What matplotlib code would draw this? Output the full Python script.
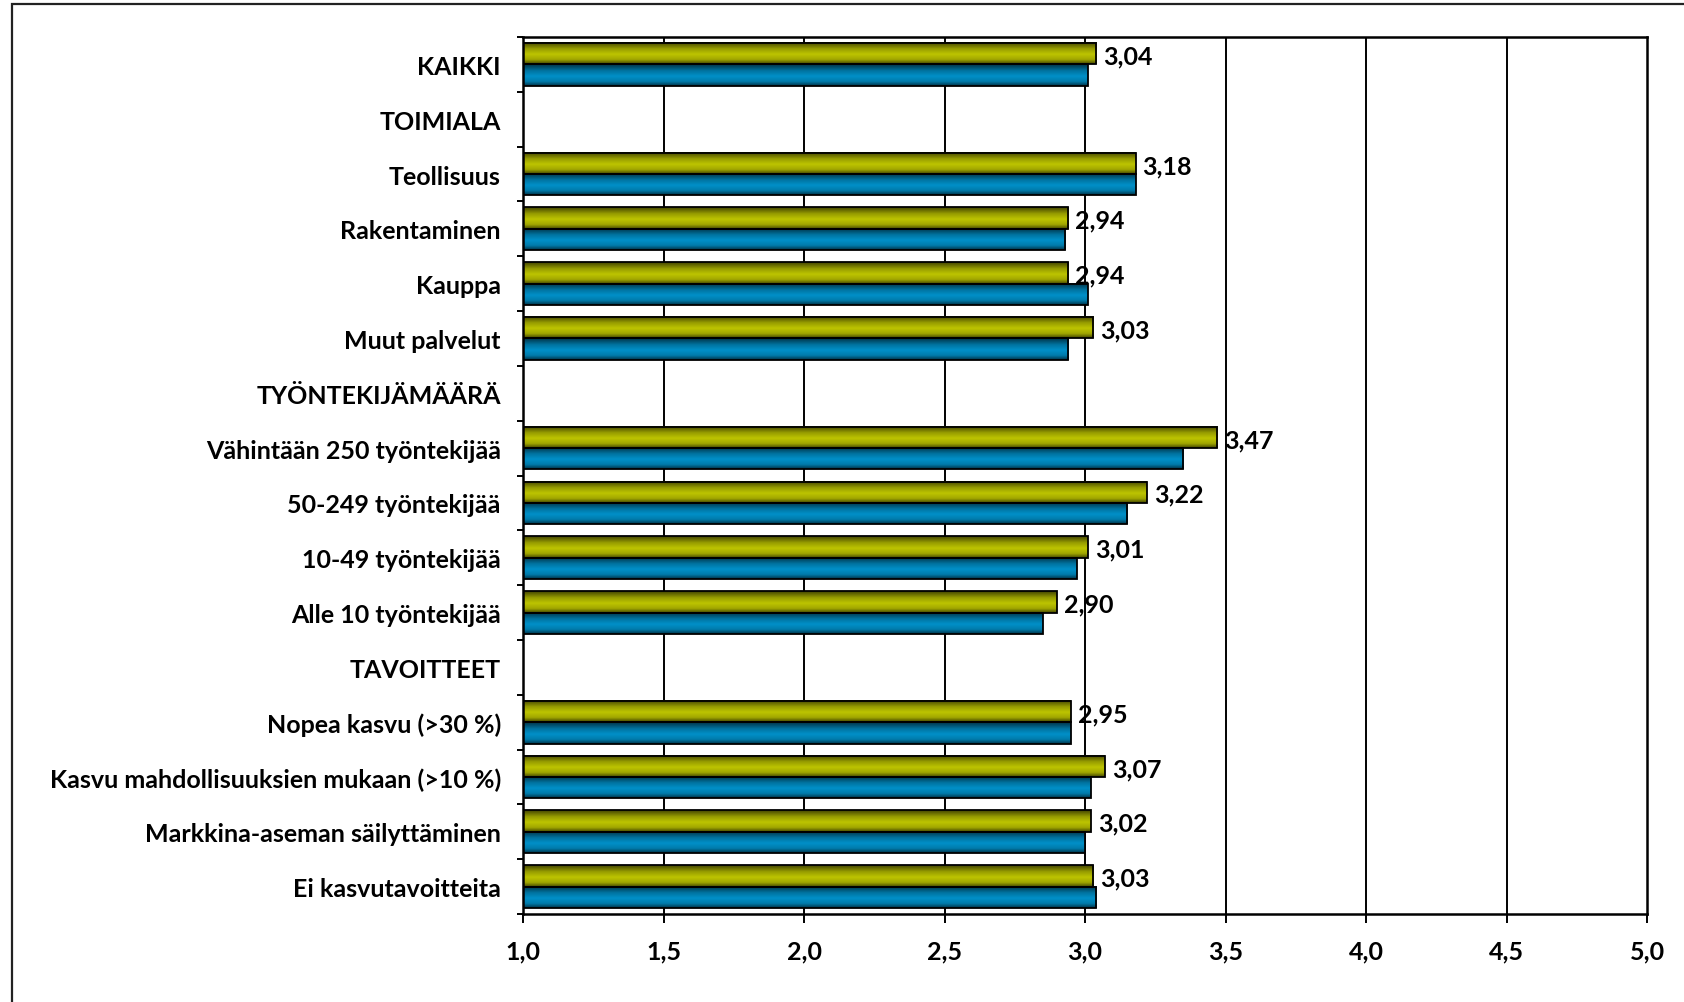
import matplotlib
matplotlib.use('Agg')
import matplotlib.pyplot as plt
import numpy as np
from matplotlib.colors import LinearSegmentedColormap
from matplotlib.patches import Rectangle

CATEGORIES = [
    'KAIKKI', 'TOIMIALA', 'Teollisuus', 'Rakentaminen', 'Kauppa', 'Muut palvelut',
    'TYÖNTEKIJÄMÄÄRÄ', 'Vähintään 250 työntekijää', '50-249 työntekijää',
    '10-49 työntekijää', 'Alle 10 työntekijää', 'TAVOITTEET', 'Nopea kasvu (>30 %)',
    'Kasvu mahdollisuuksien mukaan (>10 %)', 'Markkina-aseman säilyttäminen',
    'Ei kasvutavoitteita',
]
GREEN_VALUES = [3.04, None, 3.18, 2.94, 2.94, 3.03, None, 3.47, 3.22, 3.01, 2.90,
                None, 2.95, 3.07, 3.02, 3.03]
BLUE_VALUES = [3.01, None, 3.18, 2.93, 3.01, 2.94, None, 3.35, 3.15, 2.97, 2.85,
               None, 2.95, 3.02, 3.00, 3.04]
X_TICKS = [1.0, 1.5, 2.0, 2.5, 3.0, 3.5, 4.0, 4.5, 5.0]

GREEN = '#bdc400'
BLUE = '#0090c8'
FONT = 'Lato'
FS = 18
BAR_H = 0.39


def shaded_cmap(color):
    c = np.array(matplotlib.colors.to_rgb(color))
    dark = c * 0.35
    return LinearSegmentedColormap.from_list(
        'shade', [(0.0, dark), (0.3, c * 0.8), (0.55, c), (0.8, c * 0.85), (1.0, dark)])


def shaded_bar(ax, y, x0, x1, color):
    grad = np.linspace(0, 1, 64).reshape(-1, 1)
    ax.imshow(grad, cmap=shaded_cmap(color), aspect='auto', interpolation='bilinear',
              extent=(x0, x1, y + BAR_H / 2, y - BAR_H / 2), zorder=2)
    ax.add_patch(Rectangle((x0, y - BAR_H / 2), x1 - x0, BAR_H, facecolor='none',
                           edgecolor='black', linewidth=1.3, zorder=3))


fig = plt.figure(figsize=(16.84, 10.03), dpi=100)
ax = fig.add_axes([523 / 1684, 1 - 915 / 1003, (1647 - 523) / 1684, (915 - 38) / 1003])

# outer chart frame
fig.patches.append(Rectangle((12 / 1684, -0.05), 1.2, 0.05 + 1 - 5 / 1003,
                             transform=fig.transFigure, fill=False,
                             edgecolor='#222222', linewidth=1.6))

for i, (g, b) in enumerate(zip(GREEN_VALUES, BLUE_VALUES)):
    if g is None:
        continue
    shaded_bar(ax, i - BAR_H / 2, 1.0, g, GREEN)
    shaded_bar(ax, i + BAR_H / 2, 1.0, b, BLUE)
    ax.text(g + 0.025, i - BAR_H / 2 + 0.04, f'{g:.2f}'.replace('.', ','),
            va='center', ha='left', fontsize=FS, fontweight='bold', family=FONT, zorder=4)

for x in X_TICKS[1:-1]:
    ax.axvline(x, color='black', linewidth=1.4, zorder=1)

ax.set_xlim(1.0, 5.0)
ax.set_ylim(len(CATEGORIES) - 0.5, -0.5)
ax.set_xticks(X_TICKS)
ax.set_xticklabels([f'{x:.1f}'.replace('.', ',') for x in X_TICKS],
                   fontsize=FS, fontweight='bold', family=FONT)
ax.set_yticks(range(len(CATEGORIES)))
ax.set_yticklabels(CATEGORIES, fontsize=FS, fontweight='bold', family=FONT)
ax.set_yticks(np.arange(-0.5, len(CATEGORIES), 1.0), minor=True)
ax.tick_params(axis='y', which='major', length=0, pad=16)
ax.tick_params(axis='y', which='minor', length=4, width=1.4, direction='out')
ax.tick_params(axis='x', length=6.5, width=1.4, direction='out', pad=12)
for spine in ax.spines.values():
    spine.set_linewidth(1.8)

fig.savefig('out.png', dpi=100, facecolor='white')
